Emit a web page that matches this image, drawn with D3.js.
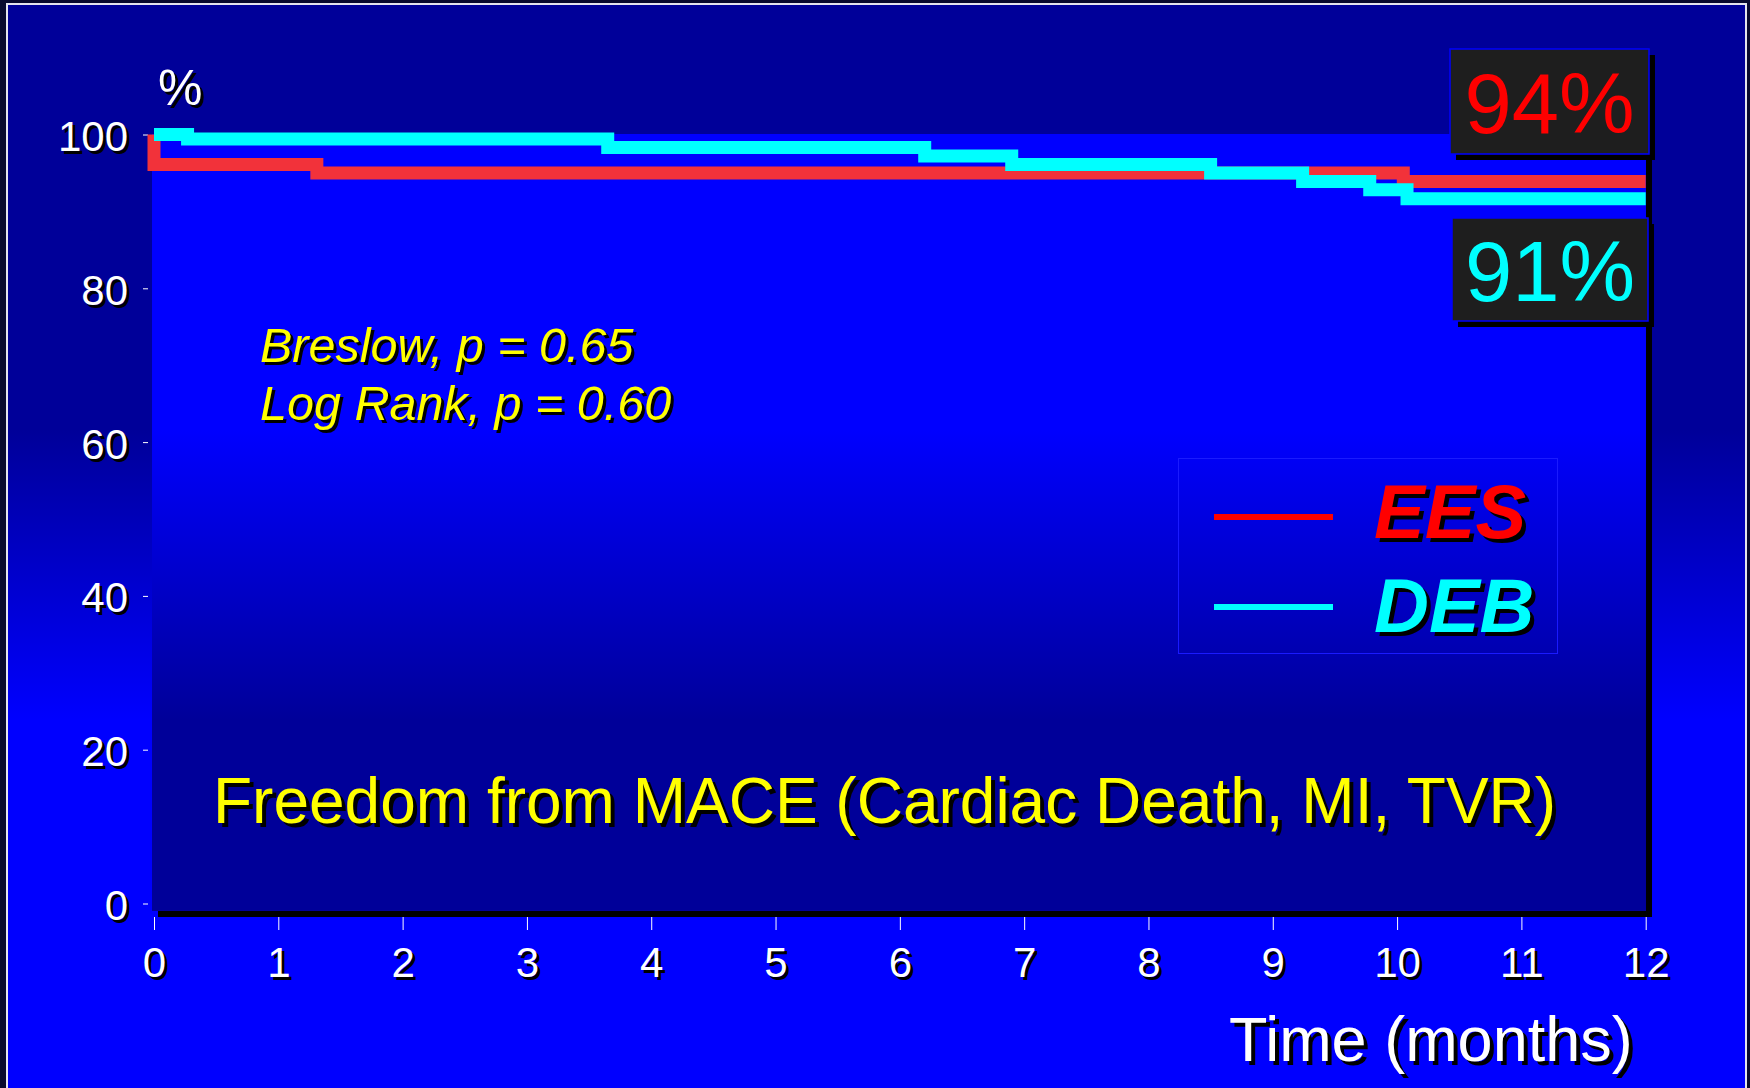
<!DOCTYPE html>
<html>
<head>
<meta charset="utf-8">
<script src="https://cdn.jsdelivr.net/npm/d3@7"></script>
<style>
  html, body { margin: 0; padding: 0; background: #080a2e; }
  svg { display: block; }
</style>
</head>
<body>
<svg id="km" width="1750" height="1088"></svg>
<script>
// ---- data ----
const monthTicks = [0, 1, 2, 3, 4, 5, 6, 7, 8, 9, 10, 11, 12];
const pctTicks = [0, 20, 40, 60, 80, 100];

// Kaplan-Meier steps (time in months, % event free after that time)
const eesTime = [0, 0, 1.31, 10.05, 12];
const eesSurv = [100, 96.1, 95.0, 93.9, 93.9];
const debTime = [0, 0.27, 3.65, 6.2, 6.9, 8.5, 9.24, 9.78, 10.08, 12];
const debSurv = [100, 99.4, 98.3, 97.2, 96.1, 95.0, 93.9, 92.8, 91.65, 91.65];

const groupNames = ["EES", "DEB"];
const finalLabels = ["94%", "91%"];
const testLines = ["Breslow, p = 0.65", "Log Rank, p = 0.60"];
const chartTitle = "Freedom from MACE (Cardiac Death, MI, TVR)";
const xTitle = "Time (months)";
const yTitle = "%";

// ---- layout ----
const FONT = "'Liberation Sans', Arial, Helvetica, sans-serif";
const RED = "#f2323a";
const CYAN = "#00ffff";
const svg = d3.select("#km");

const plot = { left: 152, top: 134, right: 1646, bottom: 911 };
const x = d3.scaleLinear().domain([0, 12]).range([154, 1645.7]);
const y = d3.scaleLinear().domain([0, 100]).range([903.5, 134.5]);

// gradients
const defs = svg.append("defs");
const bgGrad = defs.append("linearGradient").attr("id", "bgGrad")
    .attr("gradientUnits", "userSpaceOnUse")
    .attr("x1", 0).attr("x2", 0).attr("y1", 430).attr("y2", 720);
bgGrad.append("stop").attr("offset", 0).attr("stop-color", "#000099");
bgGrad.append("stop").attr("offset", 1).attr("stop-color", "#0000ff");

const plotGrad = defs.append("linearGradient").attr("id", "plotGrad")
    .attr("gradientUnits", "userSpaceOnUse")
    .attr("x1", 0).attr("x2", 0).attr("y1", 430).attr("y2", 720);
plotGrad.append("stop").attr("offset", 0).attr("stop-color", "#0000ff");
plotGrad.append("stop").attr("offset", 1).attr("stop-color", "#000099");

// slide background + frame
svg.append("rect").attr("width", 1750).attr("height", 1088).attr("fill", "#080a2e");
svg.append("rect")
    .attr("x", 7).attr("y", 4).attr("width", 1739).attr("height", 1100)
    .attr("fill", "url(#bgGrad)")
    .attr("stroke", "#e4e4ee").attr("stroke-width", 2);

// plot area with drop shadow
svg.append("rect")
    .attr("x", plot.left + 6).attr("y", plot.top + 6)
    .attr("width", plot.right - plot.left).attr("height", plot.bottom - plot.top)
    .attr("fill", "#000");
svg.append("rect")
    .attr("x", plot.left).attr("y", plot.top)
    .attr("width", plot.right - plot.left).attr("height", plot.bottom - plot.top)
    .attr("fill", "url(#plotGrad)");

// text with black drop shadow
function shadowText(parent, txt, tx, ty, o) {
    const g = parent.append("g")
        .attr("font-family", FONT)
        .attr("font-size", o.size)
        .attr("font-style", o.style || "normal")
        .attr("font-weight", o.weight || "normal")
        .attr("text-anchor", o.anchor || "start");
    g.append("text").attr("x", tx + o.off).attr("y", ty + o.off).attr("fill", "#000").text(txt);
    g.append("text").attr("x", tx).attr("y", ty).attr("fill", o.color).text(txt);
    return g;
}

// axes
function styleAxis(g) {
    g.select(".domain").remove();
    g.attr("font-family", FONT).attr("font-size", 42);
    g.selectAll(".tick line").attr("stroke", "#fff").attr("stroke-width", 1);
    const t = g.selectAll(".tick text");
    t.clone(true).attr("fill", "#fff");
    t.attr("fill", "#000").attr("transform", "translate(3,3)");
}

const xAxisG = svg.append("g")
    .attr("transform", `translate(0,${plot.bottom + 6})`)
    .call(d3.axisBottom(x).tickValues(monthTicks).tickSize(13).tickPadding(17).tickFormat(d3.format("d")));
styleAxis(xAxisG);

const yAxisG = svg.append("g")
    .attr("transform", `translate(148,0)`)
    .call(d3.axisLeft(y).tickValues(pctTicks).tickSize(5).tickPadding(15).tickFormat(d3.format("d")));
yAxisG.selectAll(".tick text").attr("dy", "0.38em");
styleAxis(yAxisG);

shadowText(svg, yTitle, 158, 105, { size: 50, color: "#fff", off: 3 });
shadowText(svg, xTitle, 1229, 1061, { size: 63, color: "#fff", off: 4 });

// test statistics + title
testLines.forEach((s, i) => {
    shadowText(svg, s, 260, 362 + i * 58, { size: 48.5, style: "italic", color: "#ffff00", off: 3 });
});
shadowText(svg, chartTitle, 213, 823, { size: 64, color: "#ffff00", off: 4 });

// legend
const legend = svg.append("g");
legend.append("rect")
    .attr("x", 1178.5).attr("y", 458.5).attr("width", 379).attr("height", 195)
    .attr("fill", "none").attr("stroke", "#1a1aff").attr("stroke-width", 1);
const legendColors = ["#ff0000", CYAN];
groupNames.forEach((name, i) => {
    const ly = 517 + i * 90;
    legend.append("line")
        .attr("x1", 1214).attr("x2", 1333).attr("y1", ly).attr("y2", ly)
        .attr("stroke", legendColors[i]).attr("stroke-width", 6);
    shadowText(legend, name, 1374, ly + 21 + i * 4, {
        size: 76, weight: "bold", style: "italic", color: legendColors[i], off: 4
    });
});

// KM curves
const stepLine = d3.line()
    .x(d => x(d.t))
    .y(d => y(d.s))
    .curve(d3.curveStepAfter);

const eesPts = eesTime.map((t, i) => ({ t: t, s: eesSurv[i] }));
const debPts = debTime.map((t, i) => ({ t: t, s: debSurv[i] }));

svg.append("path").datum(eesPts)
    .attr("d", stepLine)
    .attr("fill", "none").attr("stroke", RED)
    .attr("stroke-width", 13).attr("stroke-linejoin", "miter");
svg.append("path").datum(debPts)
    .attr("d", stepLine)
    .attr("fill", "none").attr("stroke", CYAN)
    .attr("stroke-width", 13).attr("stroke-linejoin", "miter");

// final % boxes
const boxes = [
    { x: 1450, y: 49, w: 199, h: 105, base: 133, color: "#ff0000" },
    { x: 1452, y: 218, w: 196, h: 103, base: 301, color: CYAN }
];
boxes.forEach((b, i) => {
    svg.append("rect").attr("x", b.x + 6).attr("y", b.y + 6)
        .attr("width", b.w).attr("height", b.h).attr("fill", "#000");
    svg.append("rect").attr("x", b.x).attr("y", b.y)
        .attr("width", b.w).attr("height", b.h)
        .attr("fill", "#1e1e1e").attr("stroke", "#0000ff").attr("stroke-width", 1.5);
    svg.append("text")
        .attr("x", b.x + b.w / 2).attr("y", b.base)
        .attr("text-anchor", "middle")
        .attr("font-family", FONT).attr("font-size", 85)
        .attr("fill", b.color)
        .text(finalLabels[i]);
});
</script>
</body>
</html>
